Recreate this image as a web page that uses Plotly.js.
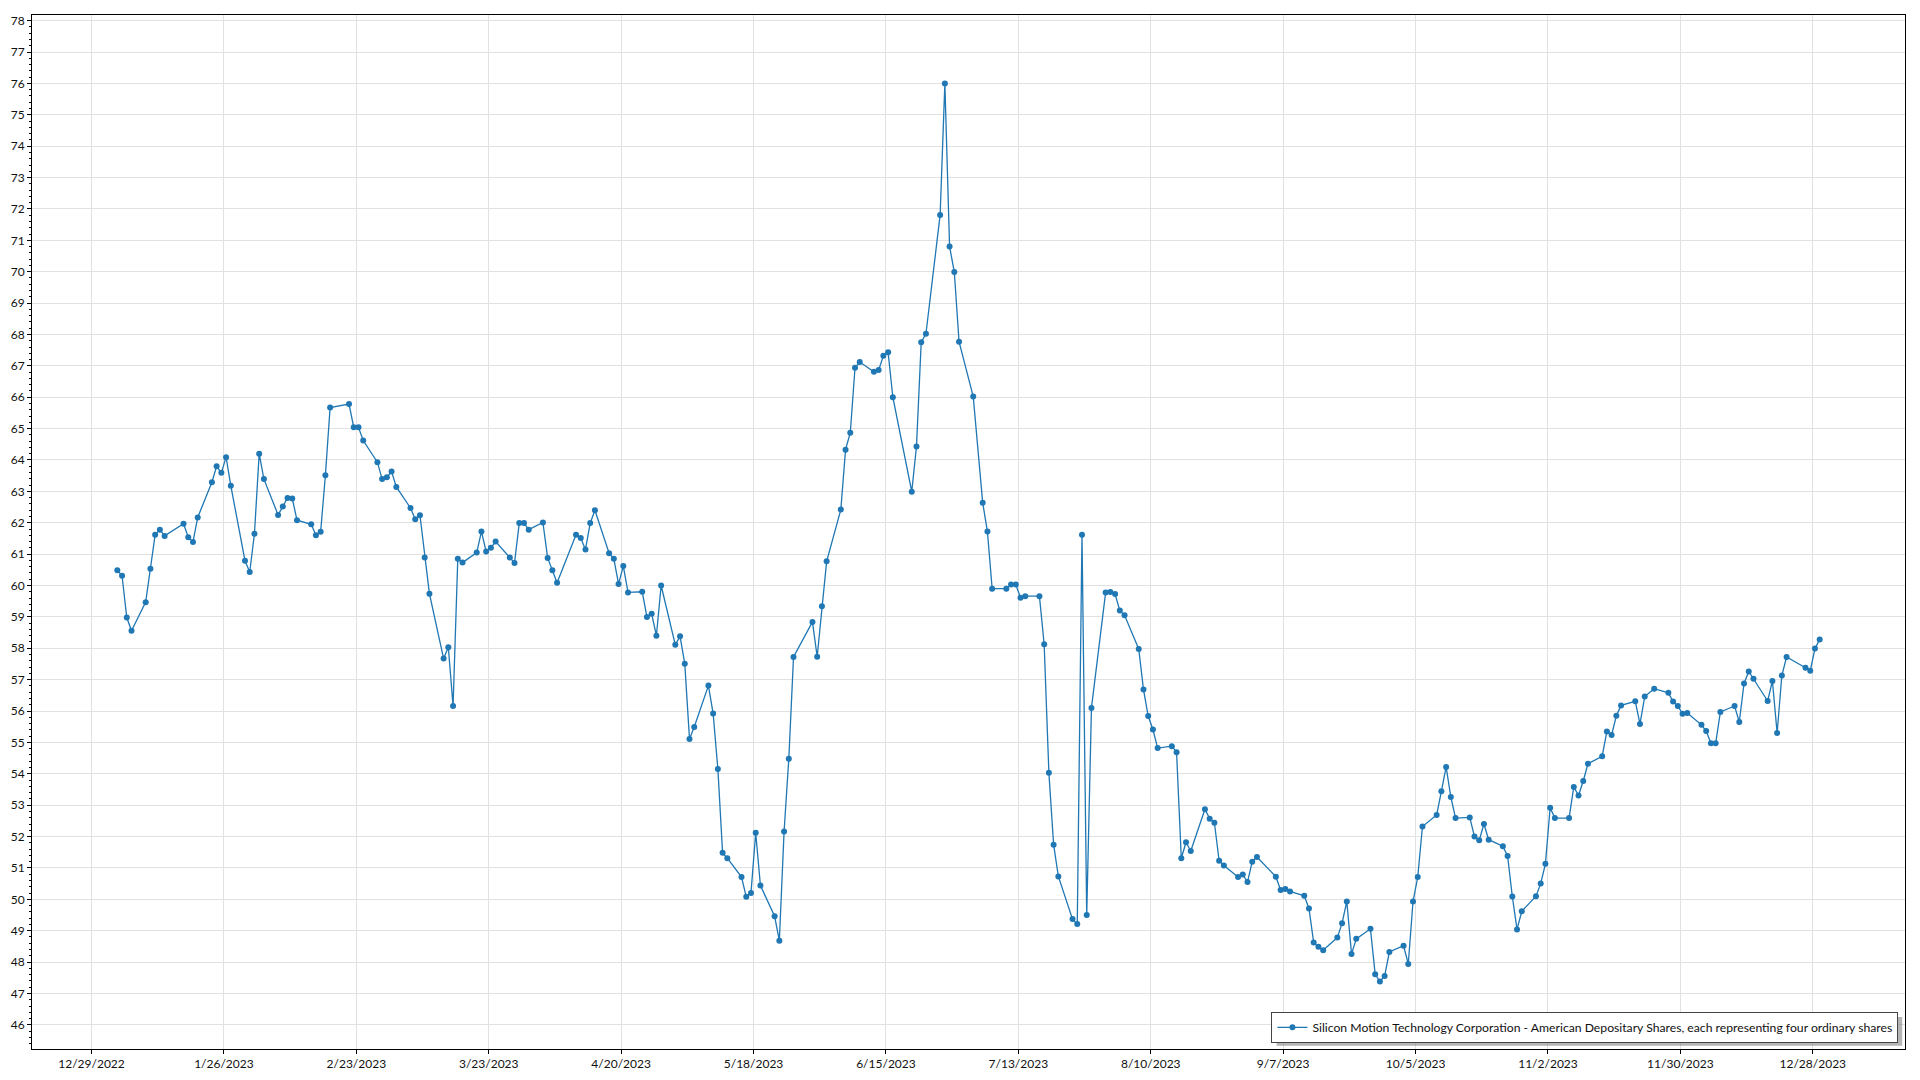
<!DOCTYPE html>
<html>
<head>
<meta charset="utf-8">
<script src="https://cdn.plot.ly/plotly-3.0.1.min.js"></script>
<style>
  html, body { margin: 0; padding: 0; background: #ffffff; }
  #chart { width: 1920px; height: 1080px; }
</style>
</head>
<body>
<div id="chart"></div>
<script>
// ---- data ----
const seriesName = "Silicon Motion Technology Corporation - American Depositary Shares, each representing four ordinary shares";

const dates = [
  "2023-01-03","2023-01-04","2023-01-05","2023-01-06","2023-01-09","2023-01-10","2023-01-11","2023-01-12","2023-01-13",
  "2023-01-17","2023-01-18","2023-01-19","2023-01-20","2023-01-23","2023-01-24","2023-01-25","2023-01-26","2023-01-27",
  "2023-01-30","2023-01-31",
  "2023-02-01","2023-02-02","2023-02-03","2023-02-06","2023-02-07","2023-02-08","2023-02-09","2023-02-10","2023-02-13",
  "2023-02-14","2023-02-15","2023-02-16","2023-02-17","2023-02-21","2023-02-22","2023-02-23","2023-02-24","2023-02-27",
  "2023-02-28",
  "2023-03-01","2023-03-02","2023-03-03","2023-03-06","2023-03-07","2023-03-08","2023-03-09","2023-03-10","2023-03-13",
  "2023-03-14","2023-03-15","2023-03-16","2023-03-17","2023-03-20","2023-03-21","2023-03-22","2023-03-23","2023-03-24",
  "2023-03-27","2023-03-28","2023-03-29","2023-03-30","2023-03-31",
  "2023-04-03","2023-04-04","2023-04-05","2023-04-06","2023-04-10","2023-04-11","2023-04-12","2023-04-13","2023-04-14",
  "2023-04-17","2023-04-18","2023-04-19","2023-04-20","2023-04-21","2023-04-24","2023-04-25","2023-04-26","2023-04-27",
  "2023-04-28",
  "2023-05-01","2023-05-02","2023-05-03","2023-05-04","2023-05-05","2023-05-08","2023-05-09","2023-05-10","2023-05-11",
  "2023-05-12","2023-05-15","2023-05-16","2023-05-17","2023-05-18","2023-05-19","2023-05-22","2023-05-23","2023-05-24",
  "2023-05-25","2023-05-26","2023-05-30","2023-05-31",
  "2023-06-01","2023-06-02","2023-06-05","2023-06-06","2023-06-07","2023-06-08","2023-06-09","2023-06-12","2023-06-13",
  "2023-06-14","2023-06-15","2023-06-16","2023-06-20","2023-06-21","2023-06-22","2023-06-23","2023-06-26","2023-06-27",
  "2023-06-28","2023-06-29","2023-06-30",
  "2023-07-03","2023-07-05","2023-07-06","2023-07-07","2023-07-10","2023-07-11","2023-07-12","2023-07-13","2023-07-14",
  "2023-07-17","2023-07-18","2023-07-19","2023-07-20","2023-07-21","2023-07-24","2023-07-25","2023-07-26","2023-07-27",
  "2023-07-28","2023-07-31",
  "2023-08-01","2023-08-02","2023-08-03","2023-08-04","2023-08-07","2023-08-08","2023-08-09","2023-08-10","2023-08-11",
  "2023-08-14","2023-08-15","2023-08-16","2023-08-17","2023-08-18","2023-08-21","2023-08-22","2023-08-23","2023-08-24",
  "2023-08-25","2023-08-28","2023-08-29","2023-08-30","2023-08-31",
  "2023-09-01","2023-09-05","2023-09-06","2023-09-07","2023-09-08","2023-09-11","2023-09-12","2023-09-13","2023-09-14",
  "2023-09-15","2023-09-18","2023-09-19","2023-09-20","2023-09-21","2023-09-22","2023-09-25","2023-09-26","2023-09-27",
  "2023-09-28","2023-09-29",
  "2023-10-02","2023-10-03","2023-10-04","2023-10-05","2023-10-06","2023-10-09","2023-10-10","2023-10-11","2023-10-12",
  "2023-10-13","2023-10-16","2023-10-17","2023-10-18","2023-10-19","2023-10-20","2023-10-23","2023-10-24","2023-10-25",
  "2023-10-26","2023-10-27","2023-10-30","2023-10-31",
  "2023-11-01","2023-11-02","2023-11-03","2023-11-06","2023-11-07","2023-11-08","2023-11-09","2023-11-10","2023-11-13",
  "2023-11-14","2023-11-15","2023-11-16","2023-11-17","2023-11-20","2023-11-21","2023-11-22","2023-11-24","2023-11-27",
  "2023-11-28","2023-11-29","2023-11-30",
  "2023-12-01","2023-12-04","2023-12-05","2023-12-06","2023-12-07","2023-12-08","2023-12-11","2023-12-12","2023-12-13",
  "2023-12-14","2023-12-15","2023-12-18","2023-12-19","2023-12-20","2023-12-21","2023-12-22","2023-12-26","2023-12-27",
  "2023-12-28","2023-12-29"
];

const prices = [
  60.49,60.31,58.98,58.56,59.47,60.53,61.62,61.78,61.58,
  61.97,61.54,61.39,62.17,63.29,63.80,63.59,64.09,63.18,
  60.79,60.43,
  61.65,64.20,63.39,62.25,62.52,62.79,62.77,62.08,61.95,
  61.60,61.71,63.51,65.67,65.78,65.04,65.04,64.62,63.93,
  63.39,
  63.45,63.63,63.14,62.47,62.11,62.24,60.89,59.74,57.67,
  58.03,56.16,60.85,60.73,61.05,61.72,61.08,61.20,61.40,
  60.89,60.72,61.99,61.99,61.78,
  62.01,60.88,60.49,60.09,61.62,61.51,61.15,61.99,62.40,
  61.03,60.85,60.05,60.62,59.78,59.80,59.00,59.10,58.40,
  60.00,
  58.11,58.38,57.51,55.11,55.49,56.81,55.92,54.15,51.48,
  51.31,50.71,50.08,50.20,52.12,50.44,49.46,48.68,52.16,
  54.48,57.72,58.84,57.73,
  59.34,60.77,62.42,64.33,64.87,66.94,67.12,66.81,66.87,
  67.32,67.43,66.00,62.99,64.43,67.75,68.02,71.81,76.00,
  70.80,69.99,67.77,
  66.02,62.64,61.72,59.90,59.90,60.03,60.03,59.61,59.66,
  59.66,58.13,54.03,51.74,50.73,49.37,49.21,61.62,49.50,
  56.10,59.78,
  59.79,59.73,59.20,59.05,57.98,56.69,55.84,55.41,54.82,
  54.88,54.69,51.31,51.82,51.54,52.87,52.57,52.44,51.23,
  51.08,50.71,50.79,50.55,51.20,
  51.35,50.72,50.30,50.33,50.25,50.11,49.71,48.62,48.49,
  48.38,48.78,49.24,49.93,48.26,48.74,49.06,47.61,47.38,
  47.56,48.32,
  48.52,47.94,49.93,50.71,52.32,52.69,53.44,54.22,53.26,
  52.59,52.61,52.00,51.88,52.40,51.90,51.69,51.38,50.09,
  49.04,49.62,50.10,50.50,
  51.13,52.92,52.59,52.59,53.58,53.31,53.77,54.32,54.56,
  55.35,55.24,55.85,56.18,56.31,55.59,56.46,56.71,56.58,
  56.30,56.16,55.91,
  55.94,55.56,55.36,54.97,54.97,55.97,56.16,55.65,56.88,
  57.26,57.03,56.32,56.96,55.30,57.13,57.72,57.38,57.28,
  57.99,58.28
];

// the reference stamps each quote late in the day (marks sit right of the date gridline)
const quoteTime = " 11:00";

const xTickStart = "2022-12-29";
const xTickDays = 28;
const xRange = ["2022-12-16 10:00", "2024-01-16 12:00"];
const yRange = [45.23, 78.18];

// ---- chart ----
const lineColor = "#1f77b4";
const gridColor = "#e1e1e1";
const fontFamily = "Lato, Roboto, 'Liberation Sans', sans-serif";

const trace = {
  type: "scatter",
  mode: "lines+markers",
  x: dates.map(d => d + quoteTime),
  y: prices,
  name: seriesName,
  line: { color: lineColor, width: 1.3 },
  marker: { color: lineColor, size: 6, symbol: "circle" },
  showlegend: true
};

const layout = {
  width: 1920,
  height: 1080,
  margin: { l: 32, r: 15, t: 15, b: 31, pad: 0 },
  paper_bgcolor: "#ffffff",
  plot_bgcolor: "#ffffff",
  font: { family: fontFamily, size: 12, color: "#111111" },
  showlegend: true,
  xaxis: {
    type: "date",
    range: xRange,
    tick0: xTickStart,
    dtick: xTickDays * 86400000,
    tickformat: "%-m/%-d/%Y",
    showgrid: true,
    gridcolor: gridColor,
    gridwidth: 1,
    zeroline: false,
    showline: true,
    linecolor: "#000000",
    linewidth: 1,
    mirror: true,
    ticks: "outside",
    ticklen: 4,
    tickcolor: "#000000",
    tickfont: { family: fontFamily, size: 12, color: "#111111" },
    automargin: false
  },
  yaxis: {
    range: yRange,
    tick0: 0,
    dtick: 1,
    showgrid: true,
    gridcolor: gridColor,
    gridwidth: 1,
    zeroline: false,
    showline: true,
    linecolor: "#000000",
    linewidth: 1,
    mirror: true,
    ticks: "outside",
    ticklen: 4,
    tickcolor: "#000000",
    tickfont: { family: fontFamily, size: 12, color: "#111111" },
    minor: { dtick: 0.2, ticks: "outside", ticklen: 2, tickcolor: "#000000", showgrid: false },
    automargin: false
  },
  legend: {
    x: 0.9965,
    y: 0.006,
    xanchor: "right",
    yanchor: "bottom",
    bgcolor: "#ffffff",
    bordercolor: "#444444",
    borderwidth: 1,
    font: { family: fontFamily, size: 12.2, color: "#111111" },
    itemwidth: 30
  },
  shapes: [
    {
      // soft drop shadow behind the legend box
      type: "rect", xref: "paper", yref: "paper", layer: "above",
      x0: 0.6645, x1: 0.9985, y0: 0.0032, y1: 0.031,
      fillcolor: "rgba(120,120,120,0.55)", line: { width: 0 }
    }
  ]
};

Plotly.newPlot("chart", [trace], layout, { staticPlot: true, displayModeBar: false });
</script>
</body>
</html>
